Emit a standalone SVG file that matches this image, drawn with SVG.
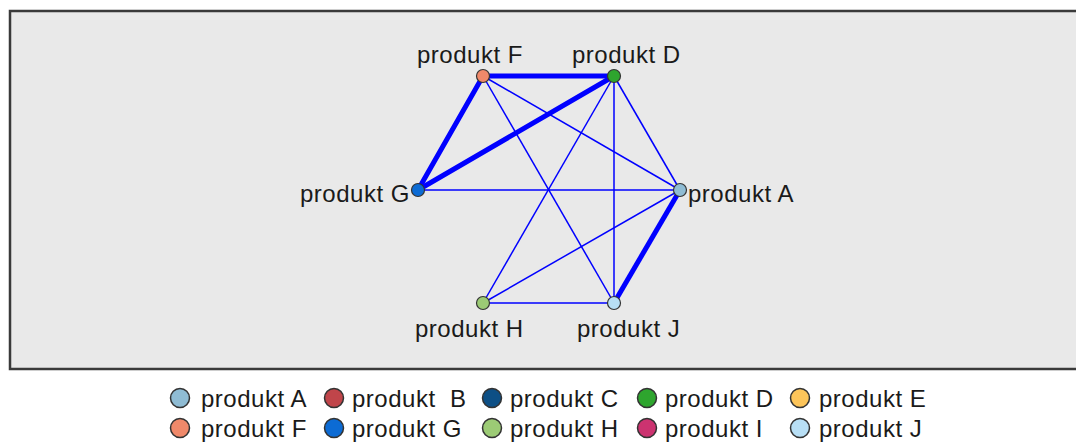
<svg xmlns="http://www.w3.org/2000/svg" width="1076" height="443" viewBox="0 0 1076 443">
<style>
text{font-family:"Liberation Sans",Arial,sans-serif;font-size:24px;letter-spacing:0.5px;fill:#1a1a1a}
.thin{stroke:#0000ff;stroke-width:1.5;fill:none}
.thick{stroke:#0000ff;stroke-width:5;fill:none;stroke-linecap:round}
.node{stroke:#333;stroke-width:1.2}
.leg{stroke:#333;stroke-width:1.5}
</style>
<rect x="0" y="0" width="1076" height="443" fill="#ffffff"/>
<rect id="panel" x="10" y="11" width="1080" height="358" fill="#e9e9e9" stroke="#3a3a3a" stroke-width="2.5"/>
<g id="connectors">
<line class="thin" x1="483" y1="76" x2="680" y2="190"/>
<line class="thin" x1="483" y1="76" x2="614" y2="303"/>
<line class="thin" x1="614" y1="76" x2="483" y2="303"/>
<line class="thin" x1="614" y1="76" x2="614" y2="303"/>
<line class="thin" x1="614" y1="76" x2="680" y2="190"/>
<line class="thin" x1="418" y1="190" x2="680" y2="190"/>
<line class="thin" x1="483" y1="303" x2="614" y2="303"/>
<line class="thin" x1="483" y1="303" x2="680" y2="190"/>
<line class="thick" x1="483" y1="76" x2="614" y2="76"/>
<line class="thick" x1="483" y1="76" x2="418" y2="190"/>
<line class="thick" x1="614" y1="76" x2="418" y2="190"/>
<line class="thick" x1="680" y1="190" x2="614" y2="303"/>
</g>
<g id="node-F"><text x="417" y="63">produkt F</text><circle class="node" cx="483" cy="76" r="6.5" fill="#f0896a"/></g>
<g id="node-D"><text x="572" y="63">produkt D</text><circle class="node" cx="614" cy="76" r="6.5" fill="#2ea52e"/></g>
<g id="node-G"><text x="300" y="202">produkt G</text><circle class="node" cx="418" cy="190" r="6.5" fill="#0c6bd4"/></g>
<g id="node-A"><text x="688" y="202">produkt A</text><circle class="node" cx="680" cy="190" r="6.5" fill="#8fbcd4"/></g>
<g id="node-H"><text x="415" y="337">produkt H</text><circle class="node" cx="483" cy="303" r="6.5" fill="#9ccb75"/></g>
<g id="node-J"><text x="577" y="337">produkt J</text><circle class="node" cx="614" cy="303" r="6.5" fill="#b8dff5"/></g>
<g id="legend">
<circle class="leg" cx="180" cy="398" r="9.5" fill="#8fbcd4"/><text x="201" y="407">produkt A</text>
<circle class="leg" cx="334" cy="398" r="9.5" fill="#c0454a"/><text x="352" y="407" xml:space="preserve">produkt  B</text>
<circle class="leg" cx="492" cy="398" r="9.5" fill="#0d4f85"/><text x="510" y="407">produkt C</text>
<circle class="leg" cx="647" cy="398" r="9.5" fill="#2ea52e"/><text x="665" y="407">produkt D</text>
<circle class="leg" cx="800" cy="398" r="9.5" fill="#fdc55a"/><text x="819" y="407">produkt E</text>
<circle class="leg" cx="180" cy="428" r="9.5" fill="#f0896a"/><text x="201" y="437">produkt F</text>
<circle class="leg" cx="334" cy="428" r="9.5" fill="#0c6bd4"/><text x="352" y="437">produkt G</text>
<circle class="leg" cx="492" cy="428" r="9.5" fill="#9ccb75"/><text x="510" y="437">produkt H</text>
<circle class="leg" cx="647" cy="428" r="9.5" fill="#cc3370"/><text x="665" y="437">produkt I</text>
<circle class="leg" cx="800" cy="428" r="9.5" fill="#b8dff5"/><text x="819" y="437">produkt J</text>
</g>
</svg>
